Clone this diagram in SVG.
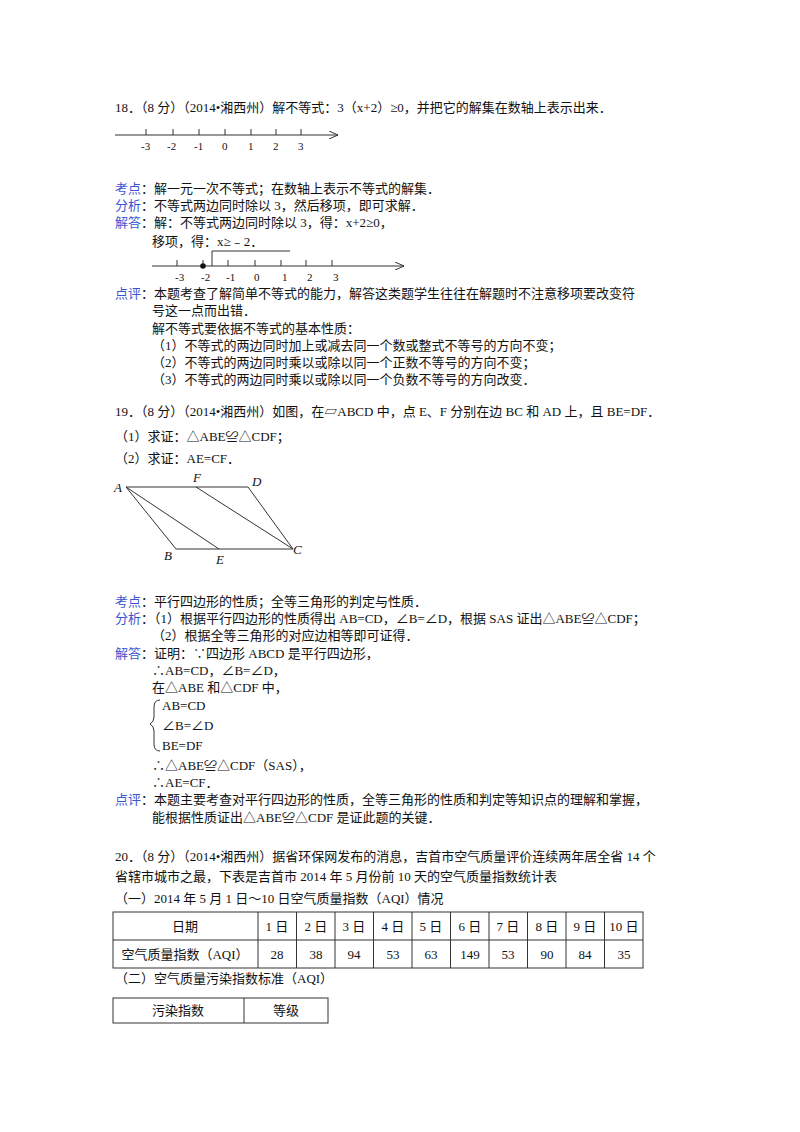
<svg xmlns="http://www.w3.org/2000/svg" width="800" height="1132" viewBox="0 0 800 1132">
<style>
text{font-family:"Liberation Serif","Noto Sans CJK SC",serif;font-size:13px;fill:#111}
.b{fill:#3b55d0}
.s{font-size:11px}
.i{font-style:italic;font-size:13px}
line,path,rect,polyline{stroke:#333;fill:none;stroke-width:1}
</style>
<defs><marker id="ar" markerWidth="10" markerHeight="8" refX="9" refY="4" orient="auto" markerUnits="userSpaceOnUse"><polyline points="0,0 9,4 0,8" style="stroke:#333;fill:none"/></marker></defs>
<rect x="0" y="0" width="800" height="1132" style="fill:#fff;stroke:none"/>
<text x="115" y="112">18．（8 分）（2014•湘西州）解不等式：3（x+2）≥0，并把它的解集在数轴上表示出来．</text>
<g id="numline1">
<line x1="115" y1="135" x2="338" y2="135" marker-end="url(#ar)"/>
<g><line x1="146" y1="129" x2="146" y2="135"/><line x1="173" y1="129" x2="173" y2="135"/><line x1="199" y1="129" x2="199" y2="135"/><line x1="225" y1="129" x2="225" y2="135"/><line x1="251" y1="129" x2="251" y2="135"/><line x1="276" y1="129" x2="276" y2="135"/><line x1="301" y1="129" x2="301" y2="135"/></g>
<g class="s"><text class="s" x="141" y="150">-3</text><text class="s" x="167" y="150">-2</text><text class="s" x="194" y="150">-1</text><text class="s" x="222" y="150">0</text><text class="s" x="248" y="150">1</text><text class="s" x="273" y="150">2</text><text class="s" x="298" y="150">3</text></g>
</g>
<text x="115" y="193"><tspan class="b">考点</tspan>：解一元一次不等式；在数轴上表示不等式的解集．</text>
<text x="115" y="210"><tspan class="b">分析</tspan>：不等式两边同时除以 3，然后移项，即可求解．</text>
<text x="115" y="227"><tspan class="b">解答</tspan>：解：不等式两边同时除以 3，得：x+2≥0，</text>
<text x="152" y="246">移项，得：x≥﹣2．</text>
<g id="numline2">
<line x1="212" y1="251" x2="212" y2="266"/><line x1="212" y1="251" x2="290" y2="251"/>
<line x1="152" y1="266" x2="404" y2="266" marker-end="url(#ar)"/>
<g><line x1="177" y1="260" x2="177" y2="266"/><line x1="203" y1="260" x2="203" y2="266"/><line x1="228" y1="260" x2="228" y2="266"/><line x1="255" y1="260" x2="255" y2="266"/><line x1="281" y1="260" x2="281" y2="266"/><line x1="306" y1="260" x2="306" y2="266"/><line x1="332" y1="260" x2="332" y2="266"/></g>
<circle cx="203" cy="266" r="2.8" style="fill:#111"/>
<text class="s" x="175" y="281">-3</text><text class="s" x="201" y="281">-2</text><text class="s" x="226" y="281">-1</text><text class="s" x="254" y="281">0</text><text class="s" x="282" y="281">1</text><text class="s" x="307" y="281">2</text><text class="s" x="333" y="281">3</text>
</g>
<text x="115" y="298"><tspan class="b">点评</tspan>：本题考查了解简单不等式的能力，解答这类题学生往往在解题时不注意移项要改变符</text>
<text x="152" y="315">号这一点而出错．</text>
<text x="152" y="333">解不等式要依据不等式的基本性质：</text>
<text x="152" y="350">（1）不等式的两边同时加上或减去同一个数或整式不等号的方向不变；</text>
<text x="152" y="367">（2）不等式的两边同时乘以或除以同一个正数不等号的方向不变；</text>
<text x="152" y="384">（3）不等式的两边同时乘以或除以同一个负数不等号的方向改变．</text>
<text x="115" y="416">19．（8 分）（2014•湘西州）如图，在▱ABCD 中，点 E、F 分别在边 BC 和 AD 上，且 BE=DF．</text>
<text x="115" y="441">（1）求证：△ABE≌△CDF；</text>
<text x="115" y="463">（2）求证：AE=CF．</text>
<g id="parallelogram">
<path d="M126,487 L248,487 L293,549 L176,549 Z"/>
<line x1="126" y1="487" x2="219" y2="549"/>
<line x1="196" y1="487" x2="293" y2="549"/>
<text class="i" x="114" y="492">A</text><text class="i" x="193" y="482">F</text><text class="i" x="252" y="486">D</text>
<text class="i" x="164" y="560">B</text><text class="i" x="216" y="564">E</text><text class="i" x="293" y="554">C</text>
</g>
<text x="115" y="606"><tspan class="b">考点</tspan>：平行四边形的性质；全等三角形的判定与性质．</text>
<text x="115" y="623"><tspan class="b">分析</tspan>：（1）根据平行四边形的性质得出 AB=CD，∠B=∠D，根据 SAS 证出△ABE≌△CDF；</text>
<text x="152" y="640">（2）根据全等三角形的对应边相等即可证得．</text>
<text x="115" y="658"><tspan class="b">解答</tspan>：证明：∵四边形 ABCD 是平行四边形，</text>
<text x="152" y="675">∴AB=CD，∠B=∠D，</text>
<text x="152" y="692">在△ABE 和△CDF 中，</text>
<path d="M160,700 Q154,700 154,707 L154,717 Q154,722 150,724 Q154,726 154,731 L154,744 Q154,751 160,751"/>
<text x="162" y="710">AB=CD</text>
<text x="162" y="730">∠B=∠D</text>
<text x="162" y="750">BE=DF</text>
<text x="152" y="770">∴△ABE≌△CDF（SAS），</text>
<text x="152" y="787">∴AE=CF．</text>
<text x="115" y="804"><tspan class="b">点评</tspan>：本题主要考查对平行四边形的性质，全等三角形的性质和判定等知识点的理解和掌握，</text>
<text x="152" y="822">能根据性质证出△ABE≌△CDF 是证此题的关键．</text>
<text x="115" y="861">20．（8 分）（2014•湘西州）据省环保网发布的消息，吉首市空气质量评价连续两年居全省 14 个</text>
<text x="115" y="881">省辖市城市之最，下表是吉首市 2014 年 5 月份前 10 天的空气质量指数统计表</text>
<text x="115" y="903">（一）2014 年 5 月 1 日～10 日空气质量指数（AQI）情况</text>
<g id="table1">
<rect x="113" y="912" width="530" height="56"/>
<line x1="113" y1="940" x2="643" y2="940"/>
<line x1="258" y1="912" x2="258" y2="968"/><line x1="296.5" y1="912" x2="296.5" y2="968"/><line x1="335" y1="912" x2="335" y2="968"/><line x1="373.5" y1="912" x2="373.5" y2="968"/><line x1="412" y1="912" x2="412" y2="968"/><line x1="450.5" y1="912" x2="450.5" y2="968"/><line x1="489" y1="912" x2="489" y2="968"/><line x1="527.5" y1="912" x2="527.5" y2="968"/><line x1="566" y1="912" x2="566" y2="968"/><line x1="604.5" y1="912" x2="604.5" y2="968"/>
<g text-anchor="middle">
<text x="185" y="931">日期</text><text x="277" y="931">1 日</text><text x="316" y="931">2 日</text><text x="354" y="931">3 日</text><text x="393" y="931">4 日</text><text x="431" y="931">5 日</text><text x="470" y="931">6 日</text><text x="508" y="931">7 日</text><text x="547" y="931">8 日</text><text x="585" y="931">9 日</text><text x="624" y="931">10 日</text>
<text x="185" y="959">空气质量指数（AQI）</text><text x="277" y="959">28</text><text x="316" y="959">38</text><text x="354" y="959">94</text><text x="393" y="959">53</text><text x="431" y="959">63</text><text x="470" y="959">149</text><text x="508" y="959">53</text><text x="547" y="959">90</text><text x="585" y="959">84</text><text x="624" y="959">35</text>
</g>
</g>
<text x="115" y="983">（二）空气质量污染指数标准（AQI）</text>
<g id="table2">
<rect x="113" y="998" width="215" height="25"/>
<line x1="244" y1="998" x2="244" y2="1023"/>
<text x="178" y="1015" text-anchor="middle">污染指数</text>
<text x="286" y="1015" text-anchor="middle">等级</text>
</g>
</svg>
